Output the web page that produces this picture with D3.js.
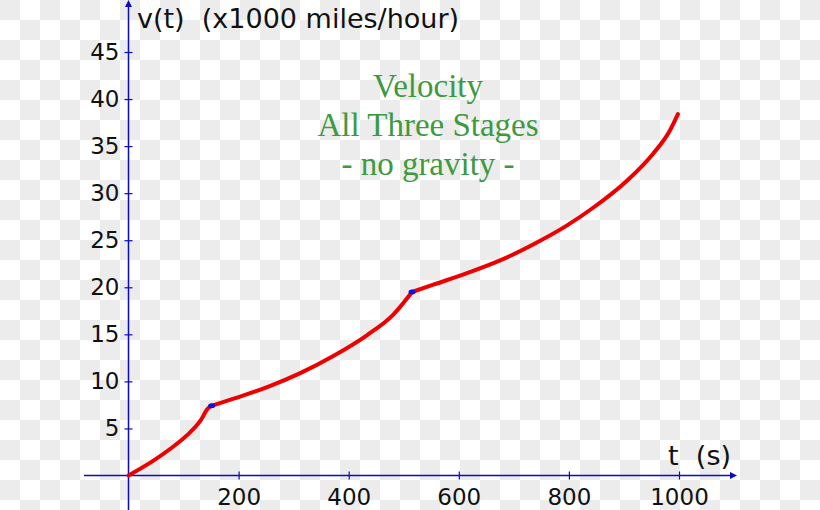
<!DOCTYPE html>
<html><head><meta charset="utf-8">
<script src="https://cdn.jsdelivr.net/npm/d3@7"></script>
<style>html,body{margin:0;padding:0;background:#fff;}svg{display:block;}</style>
</head><body>
<svg id="chart" width="820" height="510"></svg>
<script>
// ---- data ----
const stage1T = [0, 46, 76, 106, 131, 144, 151];
const stage1V = [0, 1.6, 2.84, 4.26, 5.85, 7.1, 7.4];
const stage2T = [151, 191, 252, 312, 372, 433, 481, 515];
const stage2V = [7.4, 8.16, 9.39, 10.88, 12.7, 14.9, 17.1, 19.5];
const stage3T = [515, 555, 615, 675, 735, 796, 844, 905, 953, 983, 998];
const stage3V = [19.5, 20.3, 21.5, 22.85, 24.55, 26.55, 28.45, 31.3, 34.2, 36.6, 38.4];
const xTicks = [200, 400, 600, 800, 1000];
const yTicks = [5, 10, 15, 20, 25, 30, 35, 40, 45];
const yAxisLabel = "v(t)  (x1000 miles/hour)";
const xAxisLabel = "t  (s)";
const titleLines = ["Velocity", "All Three Stages", "- no gravity -"];

const svg = d3.select("#chart");
const W = 820, H = 510;
const axisColor = "#0a0ac8";

// checkerboard background
const defs = svg.append("defs");
const pat = defs.append("pattern").attr("id", "chk").attr("width", 40).attr("height", 40)
  .attr("patternUnits", "userSpaceOnUse");
pat.append("rect").attr("width", 40).attr("height", 40).attr("fill", "#ffffff");
pat.append("rect").attr("x", 0).attr("y", 0).attr("width", 20).attr("height", 20).attr("fill", "#ececec");
pat.append("rect").attr("x", 20).attr("y", 20).attr("width", 20).attr("height", 20).attr("fill", "#ececec");
svg.append("rect").attr("width", W).attr("height", H).attr("fill", "url(#chk)");

const x = d3.scaleLinear().domain([0, 1000]).range([128.5, 679]);
const y = d3.scaleLinear().domain([0, 45]).range([475.5, 52]);

// axis lines with arrows
svg.append("line").attr("x1", 84).attr("x2", 733).attr("y1", y(0)).attr("y2", y(0))
  .attr("stroke", axisColor).attr("stroke-width", 1.5);
svg.append("path").attr("d", `M737,${y(0)} L730,${y(0)-3.5} L730,${y(0)+3.5} Z`).attr("fill", axisColor);
svg.append("line").attr("x1", x(0)).attr("x2", x(0)).attr("y1", 510).attr("y2", 5)
  .attr("stroke", axisColor).attr("stroke-width", 1.5);
svg.append("path").attr("d", `M${x(0)},0 L${x(0)-3.5},7 L${x(0)+3.5},7 Z`).attr("fill", axisColor);

const font = "'DejaVu Sans', Verdana, sans-serif";

// x axis
const gx = svg.append("g").attr("transform", `translate(0,${y(0)})`)
  .call(d3.axisBottom(x).tickValues(xTicks).tickSize(4).tickPadding(9).tickFormat(d3.format("d")));
gx.select(".domain").remove();
gx.selectAll(".tick line").attr("y1", -4).attr("stroke", axisColor).attr("stroke-width", 1.2);
gx.selectAll(".tick text").attr("font-family", font).attr("font-size", 23).attr("fill", "#111");

// y axis
const gy = svg.append("g").attr("transform", `translate(${x(0)},0)`)
  .call(d3.axisLeft(y).tickValues(yTicks).tickSize(4).tickPadding(5).tickFormat(d3.format("d")));
gy.select(".domain").remove();
gy.selectAll(".tick line").attr("x1", 4).attr("stroke", axisColor).attr("stroke-width", 1.2);
gy.selectAll(".tick text").attr("font-family", font).attr("font-size", 23).attr("fill", "#111");

// axis labels
svg.append("text").attr("x", 137).attr("y", 28).attr("font-family", font).attr("font-size", 27)
  .attr("fill", "#111").style("white-space", "pre").attr("xml:space", "preserve").text(yAxisLabel);
svg.append("text").attr("x", 731).attr("y", 465).attr("text-anchor", "end").attr("font-family", font)
  .attr("font-size", 27).attr("fill", "#111").style("white-space", "pre").attr("xml:space", "preserve").text(xAxisLabel);

// title
svg.append("g").selectAll("text").data(titleLines).join("text")
  .attr("x", 428).attr("y", (d, i) => 97 + i * 39)
  .attr("text-anchor", "middle").attr("font-family", "'Liberation Serif', 'Times New Roman', serif")
  .attr("font-size", 33).attr("fill", "#3e9a3e").text(d => d);

// curves
const line = d3.line().x(d => x(d[0])).y(d => y(d[1])).curve(d3.curveMonotoneX);
const stages = [[stage1T, stage1V], [stage2T, stage2V], [stage3T, stage3V]];
svg.append("g").selectAll("path").data(stages).join("path")
  .attr("d", s => line(d3.zip(s[0], s[1])))
  .attr("fill", "none").attr("stroke", "#ee0000").attr("stroke-width", 4)
  .attr("stroke-linecap", "round").attr("stroke-linejoin", "round");

// stage transition markers
const joins = [[stage1T[stage1T.length - 1], stage1V[stage1V.length - 1]],
               [stage2T[stage2T.length - 1], stage2V[stage2V.length - 1]]];
svg.append("g").selectAll("ellipse").data(joins).join("ellipse")
  .attr("cx", d => x(d[0])).attr("cy", d => y(d[1])).attr("rx", 3.5).attr("ry", 2.5)
  .attr("fill", "#1010e0");
</script>
</body></html>
